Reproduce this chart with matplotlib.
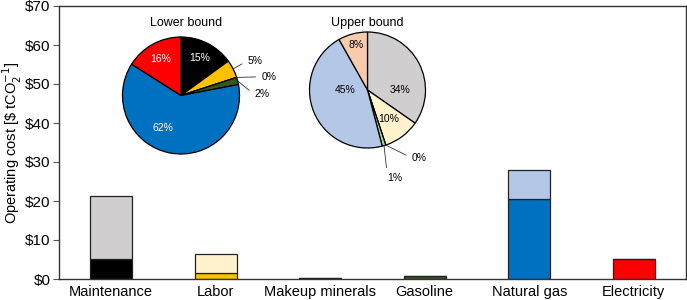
import numpy as np
import matplotlib.pyplot as plt

plt.rcParams['font.family'] = ['Liberation Sans', 'DejaVu Sans']

# data
categories = ['Maintenance', 'Labor', 'Makeup minerals', 'Gasoline', 'Natural gas', 'Electricity']
lower_cost = [5.1, 1.5, 0.3, 0.8, 20.5, 5.1]
upper_cost = [21.2, 6.3, 0.3, 0.8, 28.0, 5.1]
lower_share = [15, 5, 0, 2, 62, 16]
upper_share = [34, 10, 0, 1, 45, 8]
yticks = [0, 10, 20, 30, 40, 50, 60, 70]

lower_colors = ['#000000', '#ffc000', '#000000', '#375623', '#0070c0', '#ff0000']
upper_colors = ['#d0cece', '#fff2cc', '#000000', '#a9d18e', '#b4c7e7', '#f8cbad']

fig = plt.figure(figsize=(6.87, 3.0), dpi=100)
ax = fig.add_axes([59 / 687, 0.07, 627 / 687, 0.91])

x = np.arange(len(categories))
lower = np.array(lower_cost)
upper = np.array(upper_cost)
ax.bar(x, lower, width=0.4, color=lower_colors, edgecolor='#222222', linewidth=0.9, zorder=2)
ax.bar(x, upper - lower, bottom=lower, width=0.4, color=upper_colors,
       edgecolor='#222222', linewidth=0.9, zorder=2)

ax.set_xlim(-0.5, 5.5)
ax.set_ylim(0, 70)
ax.set_xticks(x)
ax.set_xticklabels(categories, fontsize=10.5)
ax.set_yticks(yticks)
ax.set_yticklabels(['$%d' % v for v in yticks], fontsize=11)
ax.tick_params(axis='x', length=0, pad=4)
ax.tick_params(axis='y', length=4, width=0.8, color='#555555', pad=2)
ax.set_ylabel(r'Operating cost [\$ tCO$_2^{-1}$]', fontsize=10.5, labelpad=1)
for s in ax.spines.values():
    s.set_color('#333333')
    s.set_linewidth(1.0)


def draw_pie(rect, shares, colors, title, title_xy, label_spec, text_colors):
    pax = fig.add_axes(rect)
    pax.pie(shares, colors=colors, startangle=90, counterclock=False,
            wedgeprops=dict(edgecolor='black', linewidth=0.9))
    pax.set_xlim(-1, 1)
    pax.set_ylim(-1, 1)
    pax.set_aspect('equal')
    pax.axis('off')
    pax.text(title_xy[0], title_xy[1], title, ha='center', va='center', fontsize=9)
    frac = np.array(shares, dtype=float) / sum(shares)
    cum = np.cumsum(frac) - frac / 2
    mid = np.deg2rad(90 - 360 * cum)
    for i, spec in enumerate(label_spec):
        txt = '%d%%' % shares[i]
        if spec[0] == 'in':
            r = spec[1]
            ang = mid[i] if len(spec) < 3 else np.deg2rad(spec[2])
            pax.text(r * np.cos(ang), r * np.sin(ang), txt, ha='center', va='center',
                     fontsize=7.5, color=text_colors[i])
        else:
            tx, ty, rel = spec[1], spec[2], spec[3]
            pax.annotate(txt, xy=(np.cos(mid[i]), np.sin(mid[i])), xytext=(tx, ty),
                         ha='left', va='center', fontsize=7.5, color=text_colors[i],
                         annotation_clip=False,
                         arrowprops=dict(arrowstyle='-', lw=0.6, color='#333333',
                                         relpos=rel, shrinkA=2, shrinkB=0))
    return pax


draw_pie([(181 - 58.5) / 687, 1 - (95.5 + 58.5) / 300, 117 / 687, 117 / 300],
         lower_share, lower_colors, 'Lower bound', (0.09, 1.24),
         [('in', 0.72), ('out', 1.13, 0.59, (0, 0.5)), ('out', 1.37, 0.32, (0, 0.5)),
          ('out', 1.25, 0.02, (0, 0.5)), ('in', 0.64, -119), ('in', 0.72)],
         ['white', 'black', 'black', 'black', 'white', 'white'])

draw_pie([(367.5 - 58) / 687, 1 - (90 + 58) / 300, 116 / 687, 116 / 300],
         upper_share, upper_colors, 'Upper bound', (0.0, 1.15),
         [('in', 0.56, 0), ('in', 0.62), ('out', 0.76, -1.17, (0, 0.5)),
          ('out', 0.34, -1.52, (0, 0.9)), ('in', 0.39, 180), ('in', 0.8)],
         ['black'] * 6)

fig.savefig('out.png', dpi=100)
